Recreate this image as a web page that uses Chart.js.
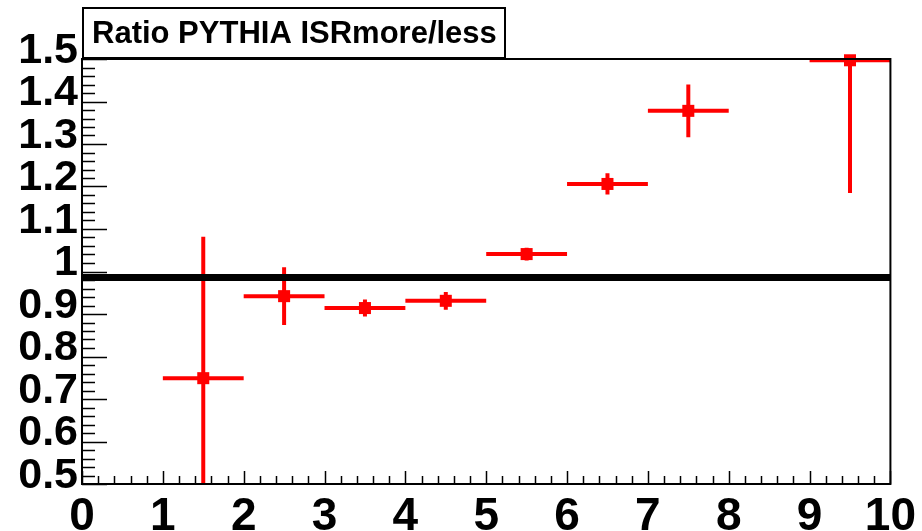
<!DOCTYPE html>
<html>
<head>
<meta charset="utf-8">
<script src="https://cdn.jsdelivr.net/npm/chart.js@4/dist/chart.umd.min.js"></script>
<style>
  html, body { margin: 0; padding: 0; background: #fff; }
</style>
</head>
<body>
<canvas id="ratioChart" width="922" height="531"></canvas>
<script>
// bin centres, ratio values and their (vertical) errors
const binCenters = [1.5, 2.5, 3.5, 4.5, 5.5, 6.5, 7.5, 9.5];
const ratioValues = [0.749, 0.942, 0.914, 0.931, 1.041, 1.206, 1.378, 1.497];
const ratioErrors = [0.333, 0.068, 0.02, 0.021, 0.015, 0.025, 0.062, 0.312];
const binHalfWidth = 0.5;
// constant fit drawn across the full range
const fitRange = [0, 10];
const fitLevel = 0.986;
const xTicks = [0, 1, 2, 3, 4, 5, 6, 7, 8, 9, 10];
const yTicks = ['0.5', '0.6', '0.7', '0.8', '0.9', '1', '1.1', '1.2', '1.3', '1.4', '1.5'];
const titleText = 'Ratio PYTHIA ISRmore/less';

const FONT = "'Liberation Sans', Arial, Helvetica, sans-serif";
const RED = '#ff0000';

// error bars, under the markers, clipped to the frame
const errorBars = {
  id: 'errorBars',
  beforeDatasetsDraw(chart) {
    const { ctx, chartArea: a, scales: { x, y } } = chart;
    ctx.save();
    ctx.beginPath();
    ctx.rect(a.left, a.top - 3, a.right - a.left, a.bottom - a.top + 3);
    ctx.clip();
    ctx.strokeStyle = RED;
    ctx.lineWidth = 4;
    binCenters.forEach((c, i) => {
      const py = y.getPixelForValue(ratioValues[i]);
      const px = x.getPixelForValue(c);
      ctx.beginPath();
      ctx.moveTo(x.getPixelForValue(c - binHalfWidth), py);
      ctx.lineTo(x.getPixelForValue(c + binHalfWidth), py);
      ctx.moveTo(px, y.getPixelForValue(ratioValues[i] - ratioErrors[i]));
      ctx.lineTo(px, y.getPixelForValue(ratioValues[i] + ratioErrors[i]));
      ctx.stroke();
    });
    ctx.restore();
  }
};

// ROOT style frame with inward ticks, plus the title box
const frame = {
  id: 'frame',
  afterDraw(chart) {
    const { ctx, chartArea: a, scales: { x, y } } = chart;
    ctx.save();
    ctx.strokeStyle = '#000';
    ctx.lineWidth = 2;
    ctx.strokeRect(a.left, a.top, a.right - a.left, a.bottom - a.top);

    ctx.lineWidth = 1.5;
    ctx.beginPath();
    for (let i = 0; i <= 50; i++) {
      const py = Math.round(y.getPixelForValue(0.5 + i * 0.02)) + 0.5;
      const len = i % 5 === 0 ? 25 : 13;
      ctx.moveTo(a.left, py);
      ctx.lineTo(a.left + len, py);
    }
    for (let i = 0; i <= 50; i++) {
      const px = Math.round(x.getPixelForValue(i * 0.2)) + 0.5;
      const len = i % 5 === 0 ? 13 : 8;
      ctx.moveTo(px, a.bottom);
      ctx.lineTo(px, a.bottom - len);
    }
    ctx.stroke();

    ctx.fillStyle = '#fff';
    ctx.fillRect(83, 8, 422, 50);
    ctx.lineWidth = 2;
    ctx.strokeRect(83, 8, 422, 50);
    ctx.fillStyle = '#000';
    ctx.font = 'bold 31px ' + FONT;
    ctx.textBaseline = 'middle';
    ctx.textAlign = 'left';
    ctx.fillText(titleText, 92, 34);
    ctx.restore();
  }
};

new Chart(document.getElementById('ratioChart'), {
  type: 'scatter',
  data: {
    datasets: [
      {
        type: 'line',
        data: fitRange.map(v => ({ x: v, y: fitLevel })),
        borderColor: '#000',
        borderWidth: 7,
        pointRadius: 0,
        clip: false
      },
      {
        data: binCenters.map((c, i) => ({ x: c, y: ratioValues[i] })),
        backgroundColor: RED,
        borderColor: RED,
        borderWidth: 0,
        pointStyle: 'rect',
        pointRadius: 8.5,
        clip: false
      }
    ]
  },
  options: {
    responsive: false,
    animation: false,
    devicePixelRatio: 1,
    layout: { padding: { top: 59, right: 31, left: 0, bottom: 0 } },
    plugins: { legend: { display: false }, tooltip: { enabled: false } },
    scales: {
      x: {
        type: 'linear',
        min: 0,
        max: 10,
        afterBuildTicks: s => { s.ticks = xTicks.map(v => ({ value: v })); },
        afterFit: s => { s.height = 47; },
        grid: { display: false, drawTicks: false },
        border: { display: false },
        ticks: {
          color: '#000',
          font: { family: FONT, size: 46, weight: 'bold' },
          padding: 6,
          maxRotation: 0,
          autoSkip: false
        }
      },
      y: {
        min: 0.5,
        max: 1.5,
        afterBuildTicks: s => { s.ticks = yTicks.map(t => ({ value: parseFloat(t) })); },
        afterFit: s => { s.width = 82; },
        grid: { display: false, drawTicks: false },
        border: { display: false },
        ticks: {
          color: '#000',
          font: { family: FONT, size: 43, weight: 'bold' },
          padding: 4,
          labelOffset: -8,
          autoSkip: false,
          callback: (v, i) => yTicks[i]
        }
      }
    }
  },
  plugins: [errorBars, frame]
});
</script>
</body>
</html>
